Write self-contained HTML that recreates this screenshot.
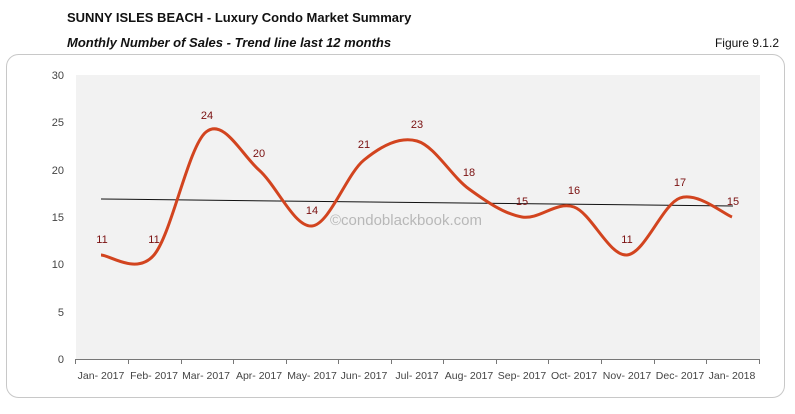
<!DOCTYPE html>
<html><head><style>
body{margin:0;width:795px;height:409px;background:#fff;font-family:"Liberation Sans",Arial,sans-serif;overflow:hidden}
</style></head><body>
<svg width="795" height="409" xmlns="http://www.w3.org/2000/svg" font-family="Liberation Sans, Arial, sans-serif">
<text x="67" y="22" font-size="13" font-weight="bold" fill="#111">SUNNY ISLES BEACH - Luxury Condo Market Summary</text>
<text x="67" y="47" font-size="13" font-weight="bold" font-style="italic" fill="#111">Monthly Number of Sales - Trend line last 12 months</text>
<text x="779" y="47" font-size="12" fill="#111" text-anchor="end">Figure 9.1.2</text>
<rect x="6.5" y="54.5" width="778" height="343" rx="12" fill="#fff" stroke="#c8c8c8"/>
<rect x="76" y="75" width="684" height="284" fill="#f2f2f2"/>
<g font-size="11" fill="#444" text-anchor="end">
<text x="64" y="79">30</text><text x="64" y="126">25</text><text x="64" y="174">20</text>
<text x="64" y="221">15</text><text x="64" y="268">10</text><text x="64" y="316">5</text><text x="64" y="363">0</text>
</g>
<line x1="75" y1="359.5" x2="760" y2="359.5" stroke="#777"/>
<g stroke="#777">
<line x1="75.5" y1="359" x2="75.5" y2="364"/><line x1="128.5" y1="359" x2="128.5" y2="364"/><line x1="181.5" y1="359" x2="181.5" y2="364"/><line x1="233.5" y1="359" x2="233.5" y2="364"/><line x1="286.5" y1="359" x2="286.5" y2="364"/><line x1="338.5" y1="359" x2="338.5" y2="364"/><line x1="391.5" y1="359" x2="391.5" y2="364"/><line x1="443.5" y1="359" x2="443.5" y2="364"/><line x1="496.5" y1="359" x2="496.5" y2="364"/><line x1="548.5" y1="359" x2="548.5" y2="364"/><line x1="601.5" y1="359" x2="601.5" y2="364"/><line x1="654.5" y1="359" x2="654.5" y2="364"/><line x1="706.5" y1="359" x2="706.5" y2="364"/><line x1="759.5" y1="359" x2="759.5" y2="364"/>
</g>
<g font-size="10.5" fill="#444" text-anchor="middle">
<text x="101" y="379">Jan- 2017</text><text x="154" y="379">Feb- 2017</text><text x="206" y="379">Mar- 2017</text><text x="259" y="379">Apr- 2017</text><text x="312" y="379">May- 2017</text><text x="364" y="379">Jun- 2017</text><text x="417" y="379">Jul- 2017</text><text x="469" y="379">Aug- 2017</text><text x="522" y="379">Sep- 2017</text><text x="574" y="379">Oct- 2017</text><text x="627" y="379">Nov- 2017</text><text x="680" y="379">Dec- 2017</text><text x="732" y="379">Jan- 2018</text>
</g>
<text x="330" y="225" font-size="15" fill="#b8b8b8">©condoblackbook.com</text>
<line x1="101" y1="199" x2="733" y2="206" stroke="#111" stroke-width="1"/>
<path d="M101,255 C110,255 136.5,275.5 154,255 C171.5,234.5 188.5,146.2 206,132 C223.5,117.8 241.3,154.3 259,170 C276.7,185.7 294.5,227.7 312,226 C329.5,224.3 346.5,174.2 364,160 C381.5,145.8 399.5,136.2 417,141 C434.5,145.8 451.5,176.3 469,189 C486.5,201.7 504.5,214 522,217 C539.5,220 556.5,200.7 574,207 C591.5,213.3 609.3,256.5 627,255 C644.7,253.5 662.5,204.3 680,198 C697.5,191.7 723.3,213.8 732,217" fill="none" stroke="#d2441f" stroke-width="3"/>
<g font-size="11" fill="#7a1010" text-anchor="middle">
<text x="102" y="243">11</text><text x="154" y="243">11</text><text x="207" y="119">24</text><text x="259" y="157">20</text><text x="312" y="214">14</text><text x="364" y="148">21</text><text x="417" y="128">23</text><text x="469" y="176">18</text><text x="522" y="205">15</text><text x="574" y="194">16</text><text x="627" y="243">11</text><text x="680" y="186">17</text><text x="733" y="205">15</text>
</g>
</svg>
</body></html>
